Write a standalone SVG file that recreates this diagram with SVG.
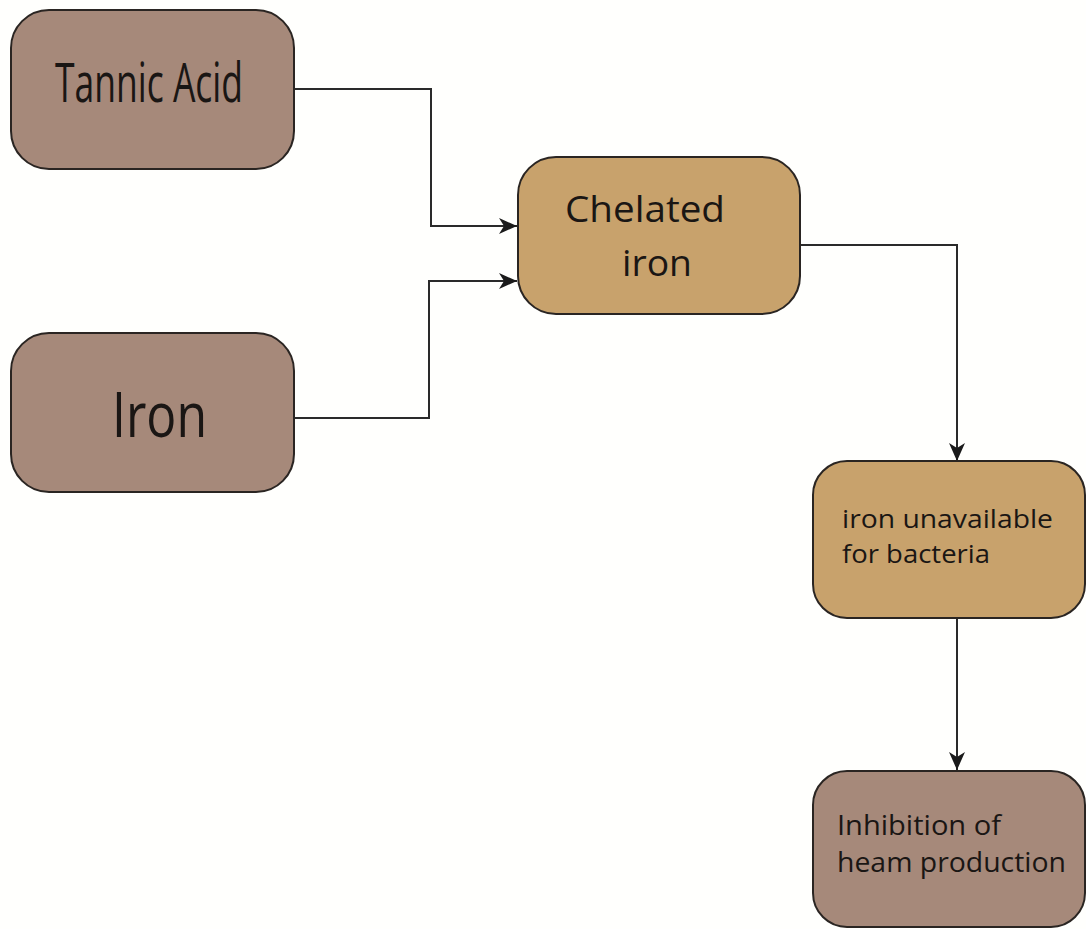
<svg xmlns="http://www.w3.org/2000/svg" width="1086" height="929" viewBox="0 0 1086 929">
<defs>
<style>
.box{stroke:#2a2522;stroke-width:2}
.brown{fill:#a6897a}
.tan{fill:#c8a26c}
.t{font-family:"Open Sans","Liberation Sans",sans-serif;fill:#1a1614}
.c{fill:none;stroke:#2a2a2a;stroke-width:2;marker-end:url(#ah)}
</style>
<marker id="ah" viewBox="0 0 18 16" refX="18" refY="8" markerWidth="18" markerHeight="16" markerUnits="userSpaceOnUse" orient="auto">
<path d="M0,0 L18,8 L0,16 L5,8 Z" fill="#1a1a1a"/>
</marker>
</defs>
<rect width="1086" height="929" fill="#fffffd"/>
<g id="connectors">
<path class="c" d="M294,89 H431 V226 H517"/>
<path class="c" d="M294,418 H429 V281 H517"/>
<path class="c" d="M800,245 H957 V461"/>
<path class="c" d="M957,618 V770"/>
</g>
<g id="tannic">
<rect class="box brown" x="11" y="10" width="283" height="159" rx="38"/>
<text class="t" x="55" y="102" font-size="54" textLength="188" lengthAdjust="spacingAndGlyphs">Tannic Acid</text>
</g>
<g id="iron">
<rect class="box brown" x="11" y="333" width="283" height="159" rx="38"/>
<text class="t" x="112" y="437" font-size="62" textLength="95" lengthAdjust="spacingAndGlyphs">Iron</text>
</g>
<g id="chelated">
<rect class="box tan" x="518" y="157" width="282" height="157" rx="38"/>
<text class="t" x="565" y="222" font-size="37" textLength="160" lengthAdjust="spacingAndGlyphs">Chelated</text>
<text class="t" x="622" y="276" font-size="37" textLength="70" lengthAdjust="spacingAndGlyphs">iron</text>
</g>
<g id="unavailable">
<rect class="box tan" x="813" y="461" width="272" height="157" rx="34"/>
<text class="t" x="842" y="528" font-size="26" textLength="211" lengthAdjust="spacingAndGlyphs">iron unavailable</text>
<text class="t" x="842" y="563" font-size="26" textLength="148" lengthAdjust="spacingAndGlyphs">for bacteria</text>
</g>
<g id="inhibition">
<rect class="box brown" x="813" y="771" width="272" height="156" rx="34"/>
<text class="t" x="837" y="835" font-size="28" textLength="164" lengthAdjust="spacingAndGlyphs">Inhibition of</text>
<text class="t" x="837" y="872" font-size="28" textLength="229" lengthAdjust="spacingAndGlyphs">heam production</text>
</g>
</svg>
